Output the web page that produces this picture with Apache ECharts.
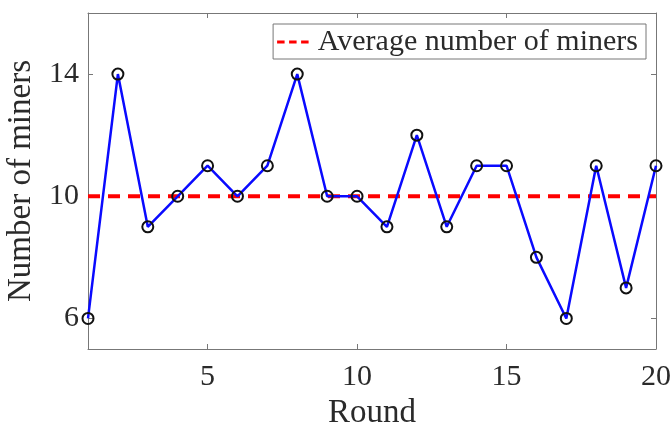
<!DOCTYPE html>
<html>
<head>
<meta charset="utf-8">
<script src="https://cdn.jsdelivr.net/npm/echarts@6/dist/echarts.min.js"></script>
<style>html,body{margin:0;padding:0;background:#fff}#c{width:672px;height:427px}</style>
</head>
<body>
<div id="c"></div>
<script>
const rounds = [1,2,3,4,5,6,7,8,9,10,11,12,13,14,15,16,17,18,19,20];
const miners = [6,14,9,10,11,10,11,14,10,10,9,12,9,11,11,8,6,11,7,11];
const averageMiners = 10;
const xTicks = [5,10,15,20];
const yTicks = [6,10,14];
const seriesNames = ['Number of miners', 'Average number of miners'];
const xTitle = 'Round';
const yTitle = 'Number of miners';

const font = 'Liberation Serif';
const txt = '#2a2a2a';
const axisCol = '#777';

const chart = echarts.init(document.getElementById('c'), null, {renderer: 'canvas'});
const xCommon = {
  type: 'value', min: 1, max: 20,
  axisLine: {show: true, lineStyle: {color: axisCol, width: 1}},
  splitLine: {show: false}
};
const yCommon = {
  type: 'value', min: 5, max: 16,
  axisLine: {show: true, lineStyle: {color: axisCol, width: 1}},
  splitLine: {show: false}
};
chart.setOption({
  animation: false,
  grid: {left: 88, right: 16, top: 13, bottom: 78, containLabel: false, outerBoundsMode: 'none'},
  legend: {
    data: [{name: seriesNames[1], icon: 'path://M0,0h10v4h-10z M16,0h10v4h-10z M32,0h10v4h-10z'}],
    right: 26, top: 24,
    padding: [3, 8, 2, 4],
    itemWidth: 44, itemHeight: 3, itemGap: 0,
    borderColor: '#777', borderWidth: 1,
    backgroundColor: '#fff',
    itemStyle: {color: '#ff0000'},
    textStyle: {fontFamily: font, fontSize: 30, color: txt, padding: [0,0,0,-2]}
  },
  xAxis: [
    Object.assign({}, xCommon, {
      position: 'bottom',
      name: xTitle, nameLocation: 'middle', nameGap: 47,
      nameTextStyle: {fontFamily: font, fontSize: 33, color: txt},
      axisTick: {show: true, inside: true, length: 5, customValues: xTicks, lineStyle: {color: axisCol}},
      axisLabel: {show: true, customValues: xTicks, margin: 13, fontFamily: font, fontSize: 30, color: txt}
    }),
    Object.assign({}, xCommon, {
      position: 'top',
      axisTick: {show: true, inside: true, length: 5, customValues: xTicks, lineStyle: {color: axisCol}},
      axisLabel: {show: false}
    })
  ],
  yAxis: [
    Object.assign({}, yCommon, {
      position: 'left',
      name: yTitle, nameLocation: 'middle', nameGap: 45,
      nameTextStyle: {fontFamily: font, fontSize: 33, color: txt},
      axisTick: {show: true, inside: true, length: 5, customValues: yTicks, lineStyle: {color: axisCol}},
      axisLabel: {show: true, customValues: yTicks, margin: 9, fontFamily: font, fontSize: 30, color: txt}
    }),
    Object.assign({}, yCommon, {
      position: 'right',
      axisTick: {show: true, inside: true, length: 5, customValues: yTicks, lineStyle: {color: axisCol}},
      axisLabel: {show: false}
    })
  ],
  series: [
    {
      name: seriesNames[1], type: 'line',
      data: [[rounds[0], averageMiners], [rounds[rounds.length-1], averageMiners]],
      symbol: 'none',
      lineStyle: {color: '#ff0000', width: 4, type: [12, 8]},
      itemStyle: {color: '#ff0000'},
      z: 2
    },
    {
      name: seriesNames[0], type: 'line',
      data: rounds.map((r, i) => [r, miners[i]]),
      symbol: 'circle', symbolSize: 11,
      lineStyle: {color: '#0a0aff', width: 2.5},
      itemStyle: {color: 'transparent', borderColor: '#111', borderWidth: 2},
      z: 3
    }
  ]
});
</script>
</body>
</html>
